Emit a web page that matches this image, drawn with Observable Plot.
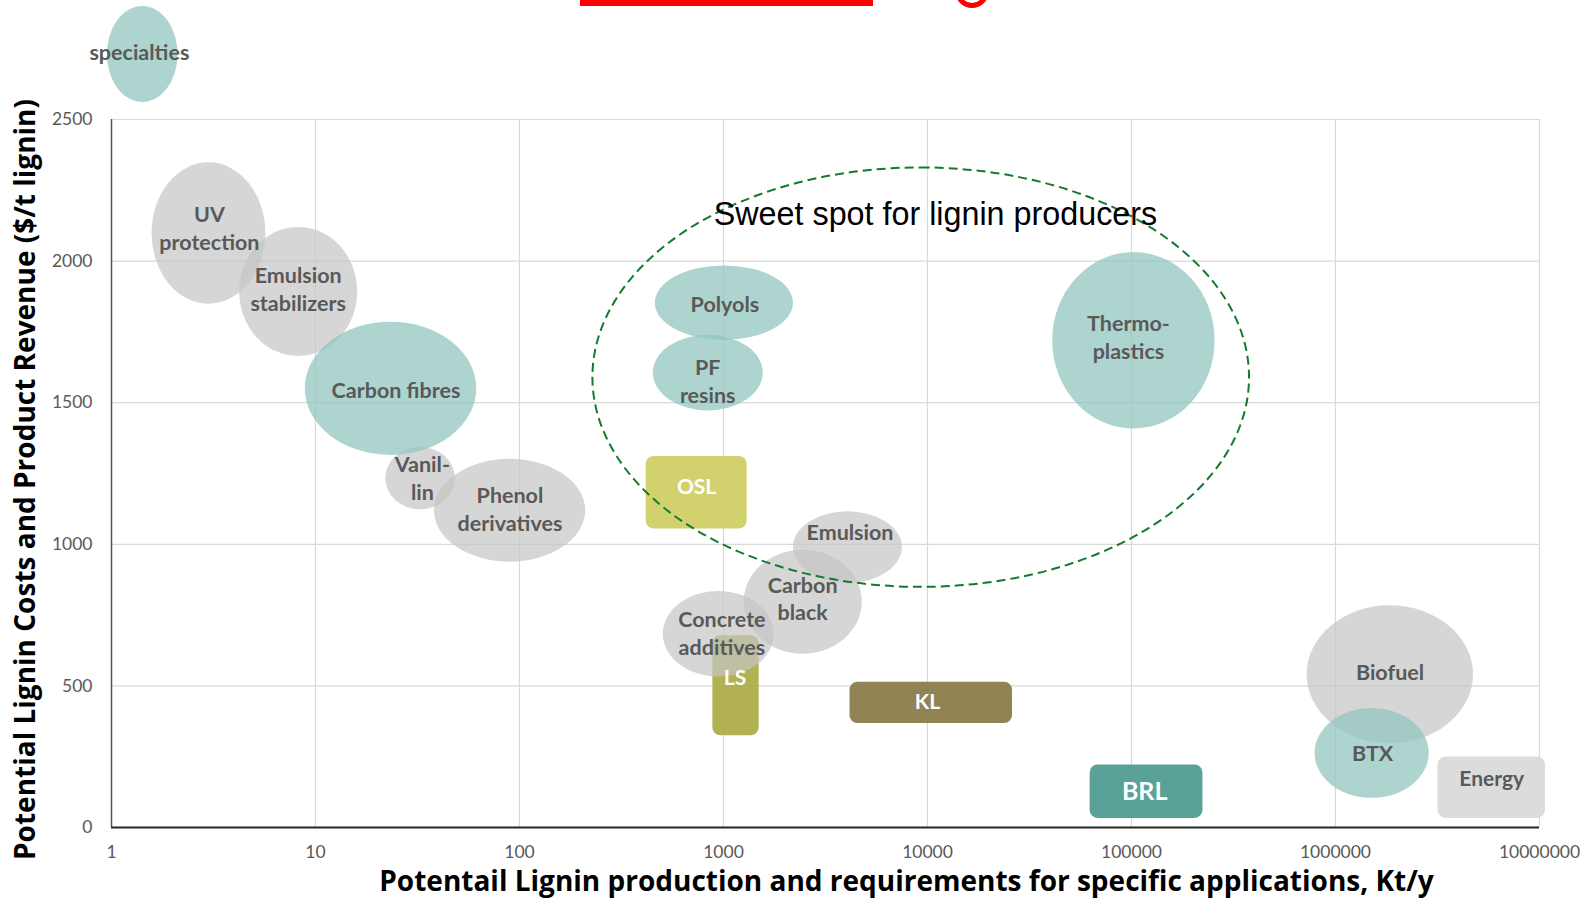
<!DOCTYPE html>
<html>
<head>
<meta charset="utf-8">
<script src="https://cdn.jsdelivr.net/npm/d3@7"></script>
<script src="https://cdn.jsdelivr.net/npm/@observablehq/plot@0.6"></script>
<style>
  html, body { margin: 0; padding: 0; background: #fff; }
  #wrap { position: relative; width: 1582px; height: 899px; overflow: hidden; }
  #redline { position: absolute; left: 580px; top: 0; width: 293px; height: 6px; background: #ff0000; }
  #redglyph { position: absolute; left: 953px; top: 0; width: 36px; height: 8px; overflow: hidden; }
  #redglyph div { position: absolute; left: 2px; top: -26px; width: 24px; height: 24px; border: 5px solid #ff0000; border-radius: 50%; }
</style>
</head>
<body>
<div id="wrap">
  <div id="chart"></div>
  <div id="redline"></div>
  <div id="redglyph"><div></div></div>
</div>
<script>
// ---- Axis ticks ----
const xTicks = [1, 10, 100, 1000, 10000, 100000, 1000000, 10000000];
const yTicks = [0, 500, 1000, 1500, 2000, 2500];

// ---- Application bubbles (ellipses): volume range (Kt/y) and price range ($/t) ----
const appNames   = ["specialties", "UV\nprotection", "Emulsion\nstabilizers", "Carbon fibres", "Vanil-\nlin", "Phenol\nderivatives", "Polyols", "PF\nresins", "Thermo-\nplastics", "Emulsion", "Carbon\nblack", "Concrete\nadditives", "Biofuel", "BTX"];
const appGroup   = ["teal", "gray", "gray", "teal", "gray", "gray", "teal", "teal", "teal", "gray", "gray", "gray", "gray", "teal"];
const appVolMin  = [0.955, 1.58, 4.25, 8.91, 22.1, 38.3, 463, 453, 41100, 2203, 1262, 507, 726000, 794000];
const appVolMax  = [2.12, 5.71, 16.1, 61.7, 48.5, 211, 2203, 1567, 257000, 7530, 4790, 1774, 4750000, 2880000];
const appPriceMin = [2560, 1848, 1663, 1314, 1122, 937, 1720, 1471, 1407, 862, 612, 531, 296, 103];
const appPriceMax = [2899, 2347, 2119, 1784, 1342, 1300, 1983, 1738, 2030, 1115, 979, 833, 783, 420];
const appLabelVol   = [1.37, 3.02, 8.22, 24.8, 33.4, 89.8, 1016, 837, 96600, 4170, 2443, 982, 1850000, 1520000];
const appLabelPrice = [2740, 2121, 1905, 1549, 1236, 1129, 1852, 1581, 1734, 1047, 812, 691, 552, 267];

// ---- Lignin types (rounded boxes) ----
const ligninNames   = ["OSL", "LS", "KL", "BRL", "Energy"];
const ligninVolMin  = [418, 887, 4170, 62700, 3180000];
const ligninVolMax  = [1306, 1496, 26100, 224000, 10700000];
const ligninPriceMin = [1054, 324, 367, 32, 32];
const ligninPriceMax = [1310, 677, 513, 221, 249];
const ligninLabelVol   = [738, 1138, 10000, 116000, 5830000];
const ligninLabelPrice = [1200, 526, 441, 124, 170];

// ---- Sweet spot region ----
const sweetLabel = ["Sweet spot for lignin producers"];
const sweetVol = [229, 379000];
const sweetPrice = [848, 2329];
const sweetLabelVol = [10940];
const sweetLabelPrice = [2165];

const xTitle = "Potentail Lignin production and requirements for specific applications, Kt/y";
const yTitle = "Potential Lignin Costs and Product Revenue ($/t lignin)";

// ---- Build tables ----
const apps = appNames.map((name, i) => ({
  name, group: appGroup[i],
  x1: appVolMin[i], x2: appVolMax[i], y1: appPriceMin[i], y2: appPriceMax[i],
  lx: appLabelVol[i], ly: appLabelPrice[i]
}));
const lignins = ligninNames.map((name, i) => ({
  name, x1: ligninVolMin[i], x2: ligninVolMax[i], y1: ligninPriceMin[i], y2: ligninPriceMax[i],
  lx: ligninLabelVol[i], ly: ligninLabelPrice[i]
}));
const sweet = sweetLabel.map((name, i) => ({
  name, x1: sweetVol[0], x2: sweetVol[1], y1: sweetPrice[0], y2: sweetPrice[1],
  lx: sweetLabelVol[i], ly: sweetLabelPrice[i]
}));

const labelFont = "Lato, 'Open Sans', sans-serif";
const titleFont = "'Open Sans', Lato, sans-serif";
const ligninTextColor = {OSL: "white", LS: "white", KL: "white", BRL: "white", Energy: "#595959"};

const chart = Plot.plot({
  width: 1582,
  height: 899,
  marginLeft: 111,
  marginRight: 43,
  marginTop: 119,
  marginBottom: 72,
  style: {fontFamily: labelFont, fontSize: "17px", color: "#595959", background: "transparent", overflow: "visible"},
  x: {type: "log", domain: [1, 10000000], label: null},
  y: {domain: [0, 2500], label: null},
  color: {
    domain: ligninNames,
    range: ["#cdce62", "#acac48", "#8a7a48", "#4e9b90", "#d9d9d9"]
  },
  marks: [
    Plot.gridX(xTicks, {stroke: "#d9d9d9", strokeOpacity: 1, strokeWidth: 1.2}),
    Plot.gridY(yTicks, {stroke: "#d9d9d9", strokeOpacity: 1, strokeWidth: 1.2}),
    Plot.ruleX([1], {stroke: "#595959", strokeWidth: 1.5}),
    Plot.ruleY([0], {stroke: "#262626", strokeWidth: 2}),
    Plot.axisX(xTicks, {tickSize: 0, tickPadding: 18, tickFormat: d => String(d), fontSize: 17.5, label: null}),
    Plot.axisY(yTicks, {tickSize: 0, tickPadding: 19, tickFormat: d => String(d), fontSize: 17.5, label: null}),
    // lignin boxes
    Plot.rect(lignins, {x1: "x1", x2: "x2", y1: "y1", y2: "y2", fill: "name", fillOpacity: 0.93, rx: 8, ry: 8}),
    // application ellipses
    Plot.rect(apps.filter(d => d.group === "gray"), {x1: "x1", x2: "x2", y1: "y1", y2: "y2", fill: "#c4c4c4", fillOpacity: 0.7, rx: 9999, ry: 9999}),
    Plot.rect(apps.filter(d => d.group === "teal"), {x1: "x1", x2: "x2", y1: "y1", y2: "y2", fill: "#92c6bf", fillOpacity: 0.75, rx: 9999, ry: 9999}),
    // sweet spot
    Plot.rect(sweet, {x1: "x1", x2: "x2", y1: "y1", y2: "y2", fill: "none", stroke: "#157a30", strokeWidth: 2, strokeDasharray: "9,5", rx: 9999, ry: 9999}),
    // labels
    Plot.text(apps, {x: "lx", y: "ly", text: "name", fill: "#595959", fontSize: 21.5, fontWeight: "bold", fontFamily: labelFont, lineHeight: 1.3}),
    Plot.text(lignins.filter(d => d.name !== "BRL"), {x: "lx", y: "ly", text: "name", fill: d => ligninTextColor[d.name], fontSize: 21, fontWeight: "bold", fontFamily: labelFont}),
    Plot.text(lignins.filter(d => d.name === "BRL"), {x: "lx", y: "ly", text: "name", fill: "white", fontSize: 25, fontWeight: "bold", fontFamily: labelFont}),
    Plot.text(sweet, {x: "lx", y: "ly", text: "name", fill: "black", fontSize: 32.3, fontFamily: "'Liberation Sans', Arial, sans-serif"}),
    // axis titles
    Plot.text([xTitle], {text: d => d, frameAnchor: "bottom", textAnchor: "middle", lineAnchor: "middle", dx: 81, dy: 55, fontSize: 28, fontWeight: "bold", fill: "black", fontFamily: titleFont}),
    Plot.text([yTitle], {text: d => d, frameAnchor: "left", textAnchor: "middle", lineAnchor: "middle", rotate: -90, dx: -85, dy: 6, fontSize: 28, fontWeight: "bold", fill: "black", fontFamily: titleFont})
  ]
});
document.getElementById("chart").appendChild(chart);
</script>
</body>
</html>
